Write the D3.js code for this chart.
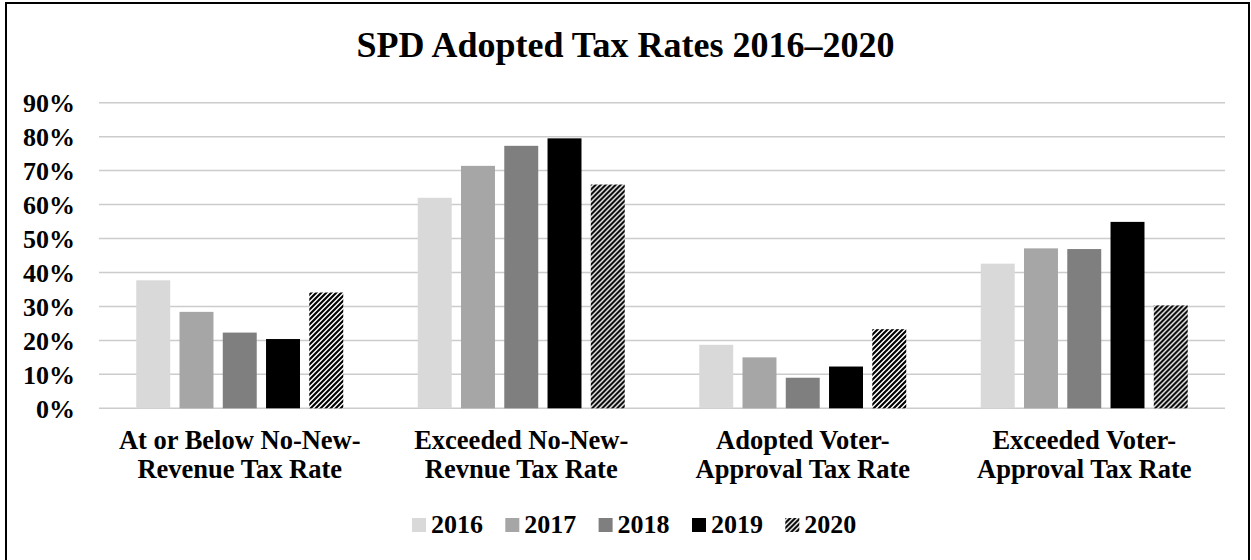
<!DOCTYPE html>
<html lang="en">
<head>
    <meta charset="UTF-8">
    <title>SPD Adopted Tax Rates 2016–2020</title>
    <script src="https://d3js.org/d3.v7.min.js"></script>
    <style>
        body {
            margin: 0;
            background: #fff;
        }
        svg {
            display: block;
        }
        svg text {
            font-family: "Liberation Serif", "Times New Roman", serif;
            font-weight: bold;
            fill: #000;
        }
    </style>
</head>
<body>
    <svg id="chart"></svg>

    <script>
        // data (percent)
        const categories = [
            "At or Below No-New-|Revenue Tax Rate",
            "Exceeded No-New-|Revnue Tax Rate",
            "Adopted Voter-|Approval Tax Rate",
            "Exceeded Voter-|Approval Tax Rate"
        ];
        const years = ["2016", "2017", "2018", "2019", "2020"];
        const values2016 = [37.7, 62.0, 18.7, 42.6];
        const values2017 = [28.4, 71.4, 15.0, 47.1];
        const values2018 = [22.3, 77.3, 9.0, 46.9];
        const values2019 = [20.4, 79.5, 12.3, 54.9];
        const values2020 = [34.1, 65.9, 23.3, 30.3];
        const yTicks = [0, 10, 20, 30, 40, 50, 60, 70, 80, 90];

        const seriesValues = [values2016, values2017, values2018, values2019, values2020];

        const W = 1251, H = 560;
        const plot = { left: 99, right: 1225, top: 102.7, bottom: 408.3 };

        const svg = d3.select("#chart")
            .attr("width", W)
            .attr("height", H);

        // hatch pattern for 2020 (wide upward diagonal)
        const defs = svg.append("defs");
        defs.append("pattern")
            .attr("id", "hatch")
            .attr("patternUnits", "userSpaceOnUse")
            .attr("width", 5)
            .attr("height", 5)
            .call(p => {
                p.append("rect").attr("width", 5).attr("height", 5).attr("fill", "#fff");
                p.append("path")
                    .attr("d", "M-1,1 l2,-2 M0,5 l5,-5 M4,6 l2,-2")
                    .attr("stroke", "#000")
                    .attr("stroke-width", 2.1);
            });

        const fills = ["#d9d9d9", "#a6a6a6", "#7f7f7f", "#000000", "url(#hatch)"];
        const color = d3.scaleOrdinal().domain(years).range(fills);

        // outer frame
        svg.append("rect")
            .attr("x", 6)
            .attr("y", 3)
            .attr("width", 1243)
            .attr("height", 620)
            .attr("fill", "none")
            .attr("stroke", "#000")
            .attr("stroke-width", 2);

        // title
        svg.append("text")
            .attr("x", 625.5)
            .attr("y", 57)
            .attr("text-anchor", "middle")
            .attr("font-size", "36px")
            .text("SPD Adopted Tax Rates 2016–2020");

        // scales
        const x0 = d3.scaleBand()
            .domain(categories)
            .range([plot.left, plot.right])
            .padding(0);

        const groupSpan = 207;
        const x1 = d3.scaleBand()
            .domain(years)
            .range([(x0.bandwidth() - groupSpan) / 2, (x0.bandwidth() + groupSpan) / 2])
            .paddingInner(0.215)
            .paddingOuter(0);

        const y = d3.scaleLinear()
            .domain([0, 90])
            .range([plot.bottom, plot.top]);

        // gridlines
        svg.append("g")
            .selectAll("line")
            .data(yTicks)
            .join("line")
            .attr("x1", plot.left)
            .attr("x2", plot.right)
            .attr("y1", d => y(d))
            .attr("y2", d => y(d))
            .attr("stroke", "#cccccc")
            .attr("stroke-width", 1.5);

        // y axis labels
        const yAxis = svg.append("g")
            .attr("transform", "translate(" + plot.left + ",0)")
            .call(d3.axisLeft(y).tickValues(yTicks).tickSize(0).tickPadding(24).tickFormat(d => d + "%"));
        yAxis.select(".domain").remove();
        yAxis.attr("font-family", null).attr("font-size", null);
        yAxis.selectAll("text")
            .attr("font-size", "26px")
            .attr("dy", "0.34em");

        // bars
        const groups = svg.append("g")
            .selectAll("g")
            .data(categories)
            .join("g")
            .attr("transform", d => "translate(" + x0(d) + ",0)");

        groups.selectAll("rect")
            .data((c, ci) => years.map((yr, si) => ({ year: yr, value: seriesValues[si][ci] })))
            .join("rect")
            .attr("x", d => x1(d.year))
            .attr("width", x1.bandwidth())
            .attr("y", d => y(d.value))
            .attr("height", d => y(0) - y(d.value))
            .attr("fill", d => color(d.year));

        // x axis labels (two lines)
        const xAxis = svg.append("g")
            .attr("transform", "translate(0," + plot.bottom + ")")
            .call(d3.axisBottom(x0).tickSize(0).tickFormat(""));
        xAxis.select(".domain").remove();
        xAxis.attr("font-family", null).attr("font-size", null);

        xAxis.selectAll(".tick")
            .append("text")
            .attr("font-size", "26.5px")
            .attr("text-anchor", "middle")
            .selectAll("tspan")
            .data(d => d.split("|"))
            .join("tspan")
            .attr("x", 0)
            .attr("y", (d, i) => 41 + i * 29)
            .text(d => d);

        // legend
        const legendX = [412, 505.3, 598.6, 692, 785.3];
        const legend = svg.append("g")
            .selectAll("g")
            .data(years)
            .join("g")
            .attr("transform", (d, i) => "translate(" + legendX[i] + ",518)");

        legend.append("rect")
            .attr("width", 14)
            .attr("height", 14)
            .attr("fill", d => color(d));

        legend.append("text")
            .attr("x", 19)
            .attr("y", 15)
            .attr("font-size", "26px")
            .text(d => d);
    </script>
</body>
</html>
